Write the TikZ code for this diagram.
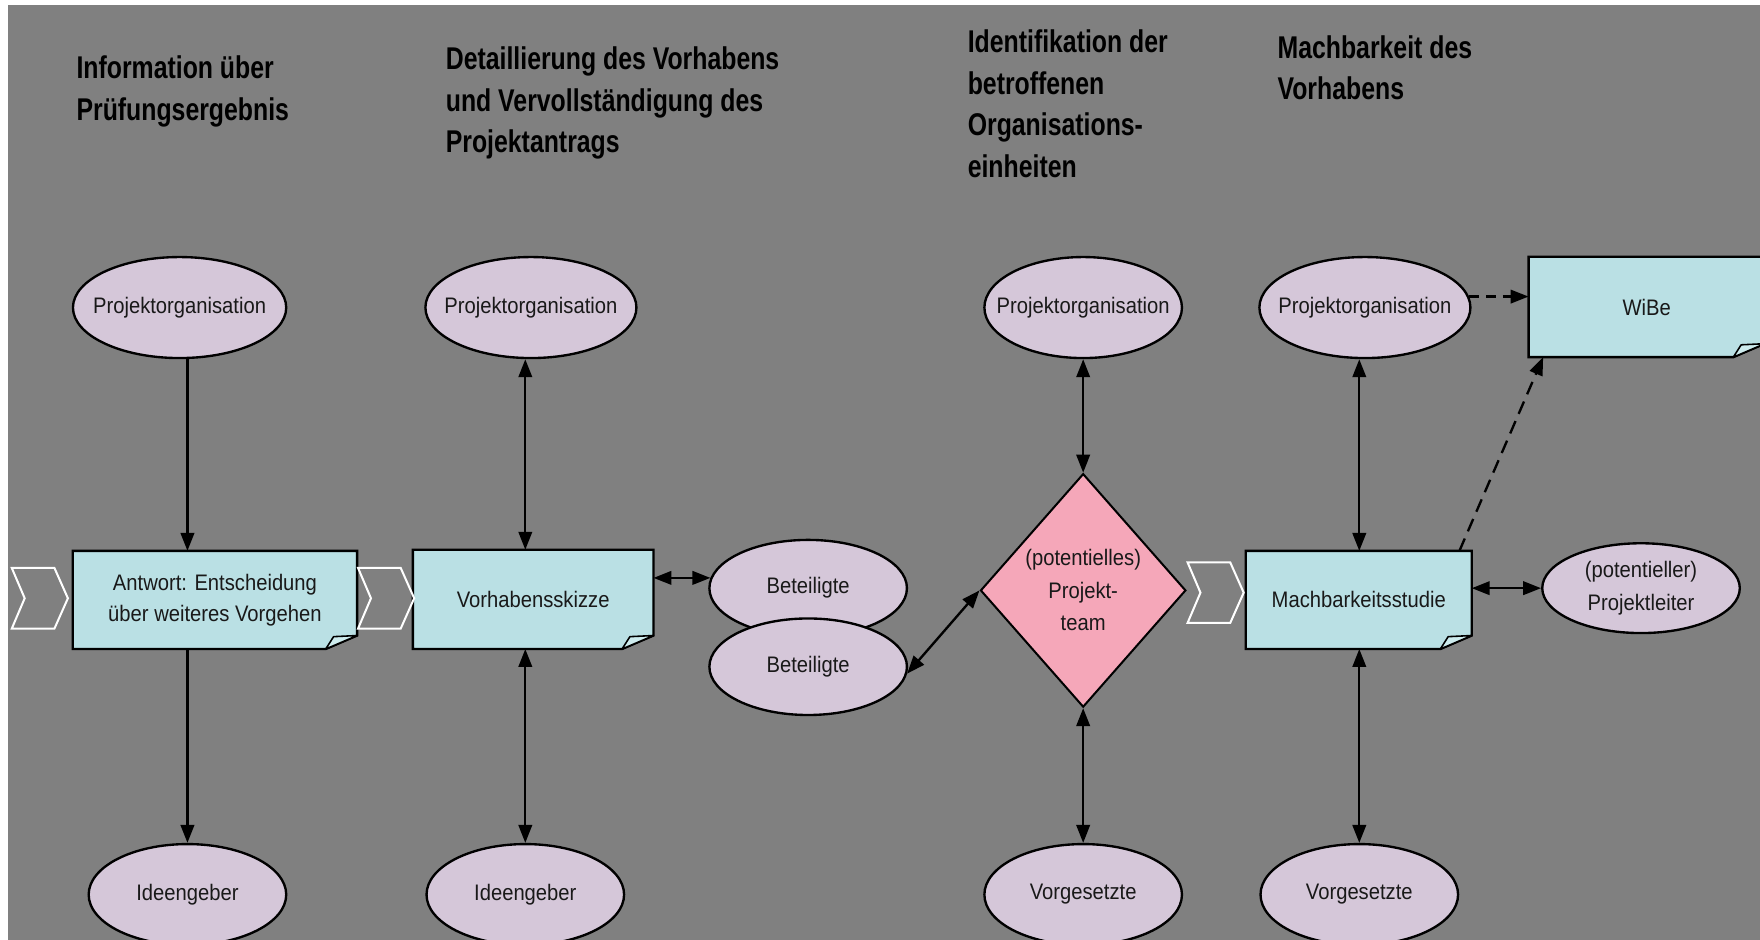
\documentclass[tikz,border=0pt]{standalone}
\usepackage{fontspec}
\setmainfont[FakeStretch=0.9]{Liberation Sans}
\newfontfamily\titlefont[FakeStretch=0.79]{Liberation Sans}
\newcommand\ndfont{\fontsize{20}{28}\selectfont}
\usetikzlibrary{shapes.geometric,arrows.meta,backgrounds}
\definecolor{bggray}{RGB}{128,128,128}
\definecolor{actorfill}{RGB}{213,199,217}
\definecolor{docfill}{RGB}{186,224,228}
\definecolor{flapfill}{RGB}{206,236,238}
\definecolor{teamfill}{RGB}{245,167,185}
\definecolor{txt}{RGB}{25,25,25}
\begin{document}
\begin{tikzpicture}[x=1pt,y=-1pt,
  >={Triangle[length=16pt,width=12pt]},
  actor/.style={ellipse, draw=black, line width=2.1pt, fill=actorfill, inner sep=0pt, font=\ndfont, text=txt, align=center},
  doc/.style={rectangle, inner sep=0pt, font=\ndfont, text=txt, align=center},
  team/.style={diamond, draw=black, line width=1.8pt, fill=teamfill, inner sep=0pt, font=\fontsize{20}{29}\selectfont, text=txt, align=center, minimum width=183pt, minimum height=208pt},
  heading/.style={anchor=north west, inner sep=0pt, align=left, font=\titlefont\bfseries\fontsize{28}{37}\selectfont},
  conn/.style={line width=2.1pt, draw=black},
  chev/.style={draw=white, line width=1.8pt, line join=miter},
  docshape/.style={fill=docfill, draw=black, line width=2.1pt, line join=miter},
  flap/.style={fill=flapfill, draw=black, line width=1.4pt, line join=round}
]
\useasboundingbox (0,0) rectangle (1568,836.6);

% headings
\node[heading] (h1) at (68,49.5) {Information über\\Prüfungsergebnis};
\node[heading] (h2) at (397,41.5) {Detaillierung des Vorhabens\\und Vervollständigung des\\Projektantrags};
\node[heading] (h3) at (862,26.5) {Identifikation der\\betroffenen\\Organisations-\\einheiten};
\node[heading] (h4) at (1138,31.5) {Machbarkeit des\\Vorhabens};

% chevrons
\foreach \cx/\cy in {10.5/533, 319/533, 1058/528}
  \draw[chev] (\cx,\cy-27) -- ++(38,0) -- ++(12,27) -- ++(-12,27) -- ++(-38,0) -- ++(11.5,-27) -- cycle;

% documents (text nodes; shapes on background layer)
\node[doc, minimum width=253pt, minimum height=87pt] (b1) at (191.5,534.5) {Antwort: Entscheidung\\über weiteres Vorgehen};
\node[doc, minimum width=214pt, minimum height=88pt] (b2) at (475,534) {Vorhabensskizze};
\node[doc, minimum width=201pt, minimum height=87pt] (b3) at (1210.5,534.5) {Machbarkeitsstudie};
\node[doc, minimum width=210pt, minimum height=89pt] (wibe) at (1467,273.5) {WiBe};

% actors
\node[actor, minimum width=190pt, minimum height=90pt] (e1) at (160,274) {\makebox[0pt]{Projektorganisation}};
\node[actor, minimum width=188pt, minimum height=90pt] (e2) at (473,274) {\makebox[0pt]{Projektorganisation}};
\node[actor, minimum width=176pt, minimum height=90pt] (e3) at (965,274) {\makebox[0pt]{Projektorganisation}};
\node[actor, minimum width=188pt, minimum height=90pt] (e4) at (1216,274) {\makebox[0pt]{Projektorganisation}};
\node[actor, minimum width=176pt, minimum height=90pt] (id1) at (167,797) {Ideengeber};
\node[actor, minimum width=176pt, minimum height=90pt] (id2) at (468,797) {Ideengeber};
\node[actor, minimum width=176pt, minimum height=90pt] (vg1) at (965,797) {Vorgesetzte};
\node[actor, minimum width=176pt, minimum height=90pt] (vg2) at (1211,797) {Vorgesetzte};
\node[actor, minimum width=176pt, minimum height=86pt] (bt1) at (720,524) {Beteiligte};
\node[actor, minimum width=176pt, minimum height=86pt] (bt2) at (720,594) {Beteiligte};
\node[actor, minimum width=176pt, minimum height=80pt, font=\fontsize{20}{30}\selectfont] (pl) at (1462,524) {(potentieller)\\Projektleiter};

% team
\node[team] (dm) at (965,526) {(potentielles)\\Projekt-\\team};

% connectors
\draw[conn,->] (id1.north |- e1.south) -- (id1.north |- b1.north);
\draw[conn,->] (id1.north |- b1.south) -- (id1.north);
\draw[conn,<->] (id2.north |- e2.south) -- (id2.north |- b2.north);
\draw[conn,<->] (id2.north |- b2.south) -- (id2.north);
\draw[conn,<->] (b2.east |- bt1.174) -- (bt1.174);
\draw[conn,<->] (e3.south) -- (dm.north);
\draw[conn,<->] (dm.south) -- (vg1.north);
\draw[conn,<->] (dm.west) -- (bt2.-4);
\draw[conn,<->] (vg2.north |- e4.south) -- (vg2.north |- b3.north);
\draw[conn,<->] (vg2.north |- b3.south) -- (vg2.north);
\draw[conn,<->] (pl.west -| b3.east) -- (pl.west);
\draw[conn,->,dash pattern=on 9pt off 6pt] (e4.6) -- (e4.6 -| wibe.west);
\draw[conn,->,dash pattern=on 12pt off 7pt] ([xshift=-11pt]b3.north east) -- ([xshift=13pt]wibe.south west);

\begin{scope}[on background layer]
  \fill[bggray] (7.1,4.5) rectangle (1570,840);
  \foreach \n in {b1,b2,b3,wibe} {
    \draw[docshape] (\n.north west) -- (\n.north east) -- ([yshift=12pt]\n.south east) -- ([xshift=-28pt]\n.south east) -- (\n.south west) -- cycle;
    \draw[flap] ([xshift=-28pt]\n.south east) -- ([xshift=-21pt,yshift=11pt]\n.south east) -- ([yshift=12pt]\n.south east) -- cycle;
  }
\end{scope}
\end{tikzpicture}
\end{document}
